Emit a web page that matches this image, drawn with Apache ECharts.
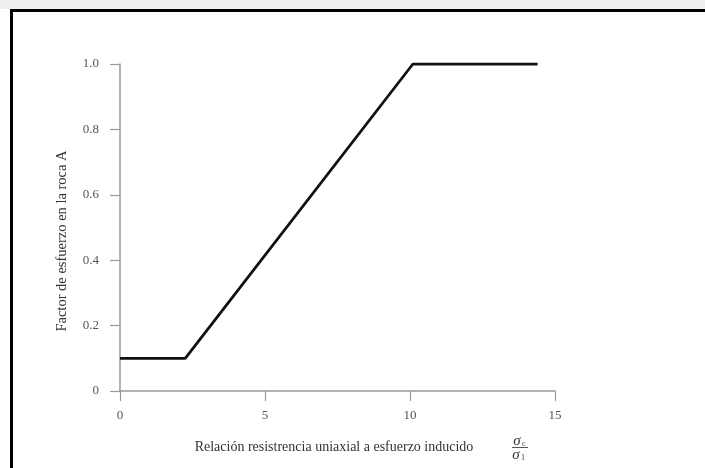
<!DOCTYPE html>
<html>
<head>
<meta charset="utf-8">
<script src="https://cdn.jsdelivr.net/npm/echarts@6/dist/echarts.min.js"></script>
<style>html,body{margin:0;padding:0;background:#fff}#c{width:705px;height:468px}</style>
</head>
<body>
<div id="c"></div>
<script>
var xValues = [0, 2.25, 10.1, 14.4];
var yValues = [0.1, 0.1, 1.0, 1.0];
var xTicks = [0, 5, 10, 15];
var yTicks = [0, 0.2, 0.4, 0.6, 0.8, 1.0];
var xTitle = 'Relación resistrencia uniaxial a esfuerzo inducido';
var yTitle = 'Factor de esfuerzo en la roca A';

var chart = echarts.init(document.getElementById('c'), null, {renderer: 'canvas'});
var serif = '"Liberation Serif", "DejaVu Serif", serif';
var axisCol = '#9a9a9a';
var textCol = '#555';
chart.setOption({
  animation: false,
  backgroundColor: '#fff',
  grid: {left: 120, right: 150, top: 64, bottom: 77},
  xAxis: {
    type: 'value', min: xTicks[0], max: xTicks[xTicks.length - 1], interval: 5,
    axisLine: {onZero: false, lineStyle: {color: axisCol, width: 1.5}},
    axisTick: {length: 10, lineStyle: {color: axisCol, width: 1.2}},
    axisLabel: {margin: 18, color: textCol, fontFamily: serif, fontSize: 13},
    splitLine: {show: false}
  },
  yAxis: {
    type: 'value', min: yTicks[0], max: yTicks[yTicks.length - 1], interval: 0.2,
    axisLine: {show: true, lineStyle: {color: axisCol, width: 1.5}},
    axisTick: {show: true, length: 10, lineStyle: {color: axisCol, width: 1.2}},
    axisLabel: {margin: 21, color: textCol, fontFamily: serif, fontSize: 13,
      formatter: function (v) { return v === 0 ? '0' : v.toFixed(1); }},
    splitLine: {show: false}
  },
  series: [{
    type: 'line',
    data: xValues.map(function (x, i) { return [x, yValues[i]]; }),
    symbol: 'none',
    lineStyle: {color: '#111', width: 2.8}
  }],
  graphic: [
    {type: 'rect', shape: {x: 0, y: 0, width: 705, height: 9}, style: {fill: '#efefef'}, silent: true},
    {type: 'rect', shape: {x: 11.5, y: 10.5, width: 720, height: 480}, style: {fill: 'none', stroke: '#000', lineWidth: 3}, silent: true},
    {type: 'text', x: 334, y: 447, style: {text: xTitle, font: '14px ' + serif, fill: '#333', align: 'center', verticalAlign: 'middle'}},
    {type: 'text', x: 62, y: 241, rotation: Math.PI / 2, style: {text: yTitle, font: '14.5px ' + serif, fill: '#333', align: 'center', verticalAlign: 'middle'}},
    {type: 'text', x: 517, y: 441, style: {text: 'σ', font: 'italic 15px ' + serif, fill: '#333', align: 'center', verticalAlign: 'middle'}},
    {type: 'text', x: 522, y: 444, style: {text: 'c', font: '8px ' + serif, fill: '#333', align: 'left', verticalAlign: 'middle'}},
    {type: 'line', shape: {x1: 512, y1: 447.5, x2: 528, y2: 447.5}, style: {stroke: '#555', lineWidth: 1}},
    {type: 'text', x: 516, y: 455, style: {text: 'σ', font: 'italic 15px ' + serif, fill: '#333', align: 'center', verticalAlign: 'middle'}},
    {type: 'text', x: 521, y: 458, style: {text: '1', font: '8px ' + serif, fill: '#333', align: 'left', verticalAlign: 'middle'}}
  ]
});
</script>
</body>
</html>
